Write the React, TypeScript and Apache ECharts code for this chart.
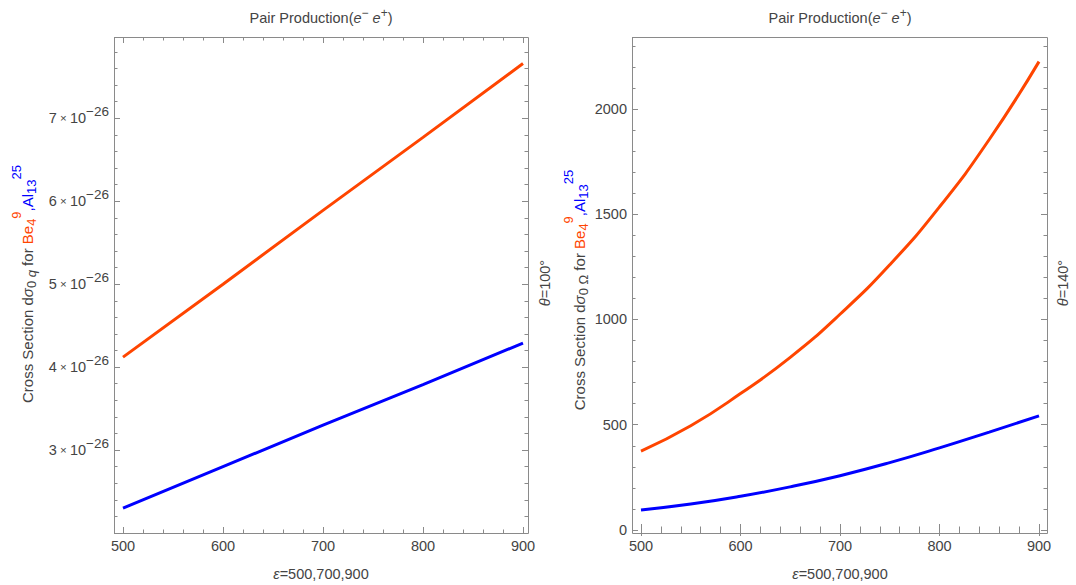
import React, { useEffect, useRef } from "react";
import * as echarts from "echarts";

// ---------- data ----------
const energyLeft = [500, 600, 700, 800, 900];
// cross sections in units of 10^-26
const beLeft = [4.12, 5.0, 5.89, 6.77, 7.66];
const alLeft = [2.3, 2.8, 3.3, 3.79, 4.29];

const energyRight = [500, 550, 600, 650, 700, 750, 800, 850, 900];
const beRight = [375, 495, 648, 820, 1025, 1260, 1535, 1855, 2225];
const alRight = [95, 123, 160, 205, 258, 320, 390, 465, 542];

const leftExponent = "−26";
const titleText = "Pair Production(";
const xNameText = "=500,700,900";
const thetaLeft = "=100°";
const thetaRight = "=140°";

const ORANGE = "#FF4500";
const BLUE = "#0000FF";
const TXT = "#444444";
const FRAME = "#8a8a8a";
const FONT = "'Liberation Sans', Arial, sans-serif";
const FS = 14.5;
const FSS = 12;
const YFS = 15;
const YFSS = 13;

function zr(fs: number, fill: string, extra: any = {}) {
  return { fontSize: fs, fill, fontFamily: FONT, ...extra };
}

const SUP = { lineHeight: 14, verticalAlign: "middle", padding: [0, 0, 21, 0] };
const SUB = { lineHeight: 14, verticalAlign: "middle", padding: [9, 0, 0, 0] };

const richGraphic: any = {
  t: zr(FS, TXT, { lineHeight: 20, verticalAlign: "middle" }),
  ti: zr(FS, TXT, { lineHeight: 20, verticalAlign: "middle", fontStyle: "italic" }),
  tsup: zr(FSS, TXT, { lineHeight: 14, verticalAlign: "middle", padding: [0, 0, 10, 0] }),
  y: zr(YFS, TXT, { lineHeight: 20, verticalAlign: "middle" }),
  yi: zr(YFS, TXT, { lineHeight: 20, verticalAlign: "middle", fontStyle: "italic" }),
  sub: zr(YFSS, TXT, SUB),
  subi: zr(YFSS, TXT, { ...SUB, fontStyle: "italic" }),
  o: zr(YFS, ORANGE, { lineHeight: 20, verticalAlign: "middle" }),
  osub: zr(YFSS, ORANGE, SUB),
  osup: zr(YFSS, ORANGE, SUP),
  b: zr(YFS, BLUE, { lineHeight: 20, verticalAlign: "middle" }),
  bsub: zr(YFSS, BLUE, SUB),
  bsup: zr(YFSS, BLUE, SUP),
};

function yLabel(subSym: string, italicSym: boolean) {
  return (
    "{y|Cross Section d}{yi|σ}{sub|0 }" +
    (italicSym ? `{subi|${subSym}}` : `{sub|${subSym}}`) +
    "{y| for }{o|Be}{osub|4}{osup|9}{b|,Al}{bsub|13}{bsup|25}"
  );
}

const titleRich = `{t|${titleText}}{ti|e}{tsup|−}{t| }{ti|e}{tsup|+}{t|)}`;

function textEl(x: number, y: number, text: string, rotation = 0) {
  return {
    type: "text",
    x,
    y,
    rotation,
    z: 10,
    style: {
      text,
      rich: richGraphic,
      fill: TXT,
      fontSize: FS,
      fontFamily: FONT,
      align: "center",
      verticalAlign: "middle",
    },
  };
}

function frameRect(x: number, y: number, w: number, h: number) {
  return {
    type: "rect",
    z: 5,
    shape: { x: x + 0.5, y: y + 0.5, width: w, height: h },
    style: { fill: "none", stroke: FRAME, lineWidth: 1 },
    silent: true,
  };
}

const tickLine = { color: FRAME, width: 1 };

function xAx(gridIndex: number, position: string, showLabel: boolean, offset = 0) {
  return {
    type: "value",
    gridIndex,
    position,
    offset,
    min: 500,
    max: 900,
    interval: 100,
    axisLine: { show: false },
    axisTick: { show: true, inside: true, length: 6, lineStyle: tickLine },
    minorTick: { show: true, splitNumber: 5, length: 3.5, lineStyle: tickLine },
    splitLine: { show: false },
    minorSplitLine: { show: false },
    axisLabel: {
      show: showLabel,
      margin: 5,
      color: TXT,
      fontSize: FS,
      fontFamily: FONT,
    },
  };
}

const leftLabelRich: any = {
  n: { fontSize: FS, color: TXT, fontFamily: FONT, lineHeight: 20, verticalAlign: "middle" },
  x: { fontSize: 11.5, color: TXT, fontFamily: FONT, lineHeight: 20, verticalAlign: "middle" },
  sup: {
    fontSize: 13.5,
    color: TXT,
    fontFamily: FONT,
    lineHeight: 14,
    verticalAlign: "middle",
    padding: [0, 0, 14, 0],
  },
};

function leftY(position: string, showLabel: boolean, offset: number) {
  return {
    type: "value",
    gridIndex: 0,
    position,
    offset,
    min: 2,
    max: 7.98,
    interval: 1,
    axisLine: { show: false },
    axisTick: { show: true, inside: true, length: 6, lineStyle: tickLine },
    minorTick: { show: true, splitNumber: 5, length: 3.5, lineStyle: tickLine },
    splitLine: { show: false },
    axisLabel: {
      show: showLabel,
      margin: 5,
      showMinLabel: false,
      showMaxLabel: false,
      formatter: (v: number) => {
        if (Math.abs(v - Math.round(v)) > 1e-6) return "";
        return `{n|${Math.round(v)}}{x| × }{n|10}{sup|${leftExponent}}`;
      },
      rich: leftLabelRich,
    },
  };
}

function rightY(position: string, showLabel: boolean, offset: number, interval: number, len: number) {
  return {
    type: "value",
    gridIndex: 1,
    position,
    offset,
    min: 0,
    max: 2342,
    interval,
    axisLine: { show: false },
    axisTick: { show: true, inside: true, length: len, lineStyle: tickLine },
    minorTick: { show: false },
    splitLine: { show: false },
    axisLabel: {
      show: showLabel,
      margin: 5,
      showMaxLabel: false,
      color: TXT,
      fontSize: FS,
      fontFamily: FONT,
      formatter: (v: number) => String(v),
    },
  };
}

function pairs(xs: number[], ys: number[]) {
  return xs.map((x, i) => [x, ys[i]]);
}

function lineSeries(xi: number, yi: number, data: number[][], color: string, smooth: boolean) {
  return {
    type: "line",
    xAxisIndex: xi,
    yAxisIndex: yi,
    data,
    smooth,
    showSymbol: false,
    symbol: "none",
    lineStyle: { color, width: 3 },
    itemStyle: { color },
    z: 3,
  };
}

export default function App() {
  const ref = useRef<HTMLDivElement>(null);
  useEffect(() => {
    if (!ref.current) return;
    const chart = echarts.init(ref.current, undefined, { renderer: "svg" });
    chart.setOption({
      animation: false,
      backgroundColor: "#ffffff",
      grid: [
        { left: 123, top: 37, width: 400, height: 496 },
        { left: 641, top: 37, width: 398, height: 493 },
      ],
      xAxis: [
        xAx(0, "bottom", true),
        xAx(0, "top", false),
        xAx(1, "bottom", true, 3),
        xAx(1, "top", false),
      ],
      yAxis: [
        leftY("left", true, 9),
        leftY("right", false, 5),
        rightY("left", true, 9, 500, 6),
        rightY("left", false, 9, 100, 3.5),
        rightY("right", false, 8, 500, 6),
        rightY("right", false, 8, 100, 3.5),
      ],
      series: [
        lineSeries(0, 0, pairs(energyLeft, beLeft), ORANGE, false),
        lineSeries(0, 0, pairs(energyLeft, alLeft), BLUE, false),
        lineSeries(2, 2, pairs(energyRight, beRight), ORANGE, true),
        lineSeries(2, 2, pairs(energyRight, alRight), BLUE, true),
      ],
      graphic: [
        frameRect(114, 37, 414, 496),
        frameRect(632, 37, 415, 496),
        textEl(321, 18, titleRich),
        textEl(840, 18, titleRich),
        textEl(321, 574, `{ti|ε}{t|${xNameText}}`),
        textEl(840, 574, `{ti|ε}{t|${xNameText}}`),
        textEl(27, 284, yLabel("q", true), Math.PI / 2),
        textEl(579, 290, yLabel("Ω", false), Math.PI / 2),
        textEl(545, 283, `{ti|θ}{t|${thetaLeft}}`, Math.PI / 2),
        textEl(1063, 283, `{ti|θ}{t|${thetaRight}}`, Math.PI / 2),
      ],
    });
    return () => chart.dispose();
  }, []);
  return (
    <div
      ref={ref}
      style={{ position: "fixed", left: 0, top: 0, width: 1076, height: 585 }}
    />
  );
}
